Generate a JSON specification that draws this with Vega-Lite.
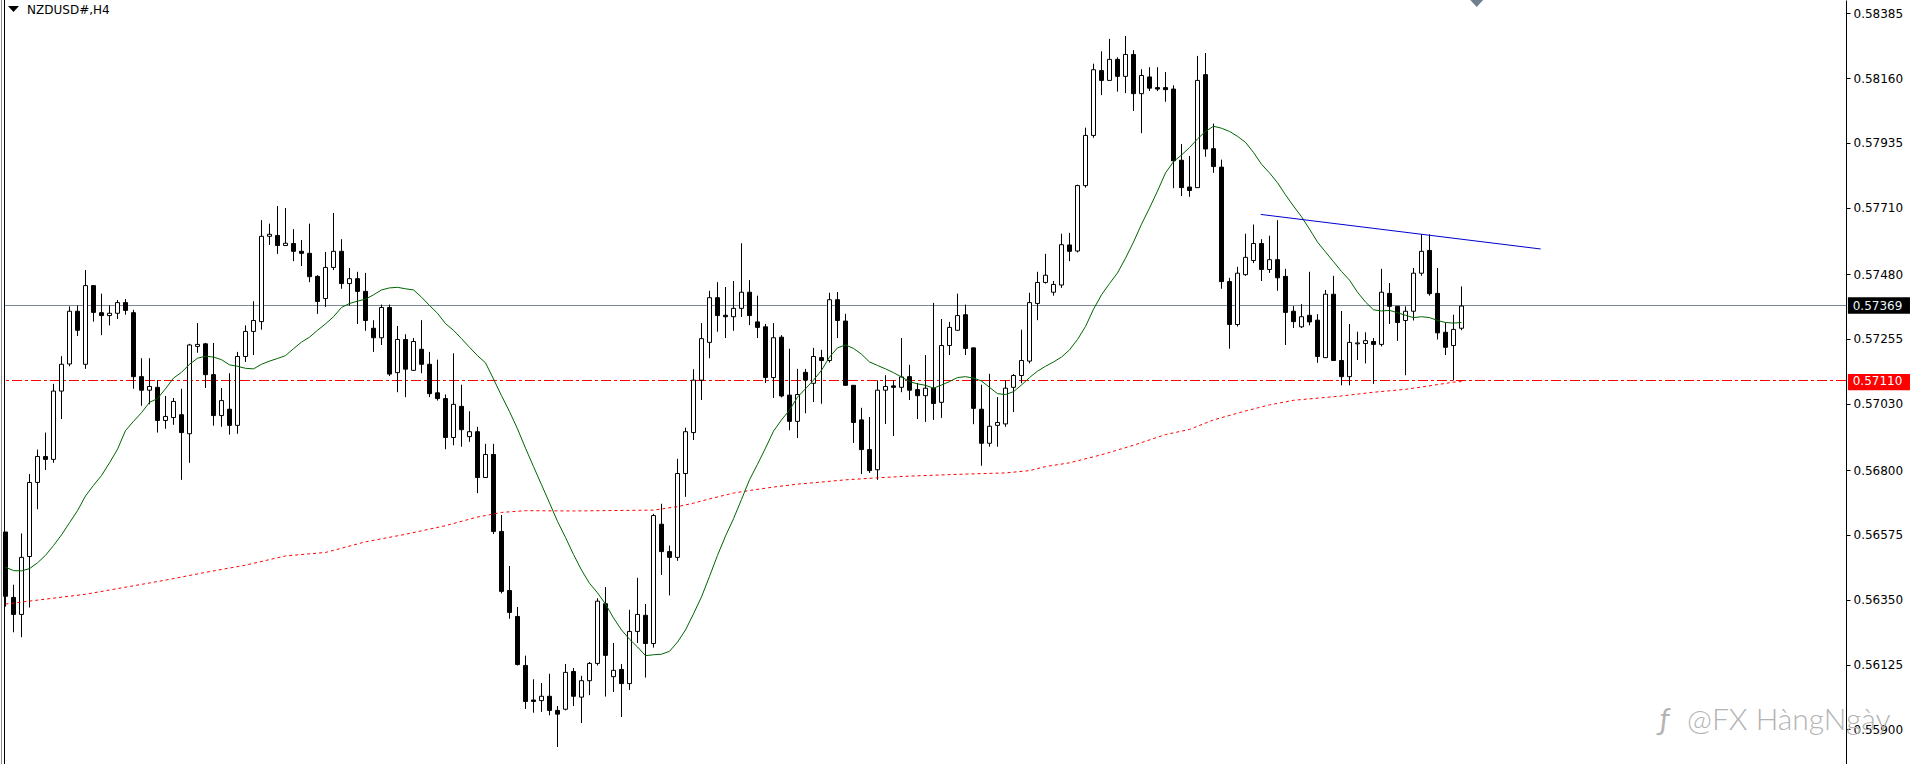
{
"$schema":"https://vega.github.io/schema/vega-lite/v6.json",
"width":1842,"height":764,"autosize":"none",
"padding":{"left":4,"right":67,"top":0,"bottom":0},
"background":"#ffffff",
"config":{"view":{"stroke":null},"axisX":{"disable":true}},
"datasets":{
"candles":[
{"i":0,"o":0.56585,"h":0.56585,"l":0.56326,"c":0.56362,"ma":0.56463},
{"i":1,"o":0.56358,"h":0.56402,"l":0.56237,"c":0.56299,"ma":0.56451},
{"i":2,"o":0.56299,"h":0.5658,"l":0.5622,"c":0.56497,"ma":0.5645},
{"i":3,"o":0.565,"h":0.56786,"l":0.56323,"c":0.56757,"ma":0.56458},
{"i":4,"o":0.56757,"h":0.56871,"l":0.56664,"c":0.56847,"ma":0.56478},
{"i":5,"o":0.56847,"h":0.5693,"l":0.568,"c":0.56837,"ma":0.56504},
{"i":6,"o":0.56837,"h":0.57099,"l":0.56825,"c":0.57074,"ma":0.56538},
{"i":7,"o":0.57074,"h":0.57195,"l":0.56977,"c":0.57167,"ma":0.56575},
{"i":8,"o":0.57168,"h":0.57368,"l":0.5716,"c":0.57351,"ma":0.56617},
{"i":9,"o":0.57351,"h":0.57371,"l":0.57265,"c":0.57285,"ma":0.56659},
{"i":10,"o":0.57167,"h":0.57494,"l":0.57151,"c":0.5744,"ma":0.5671},
{"i":11,"o":0.5744,"h":0.5744,"l":0.57315,"c":0.57347,"ma":0.56747},
{"i":12,"o":0.57346,"h":0.57412,"l":0.57268,"c":0.57336,"ma":0.56781},
{"i":13,"o":0.57336,"h":0.57371,"l":0.57302,"c":0.57344,"ma":0.56825},
{"i":14,"o":0.57344,"h":0.5739,"l":0.57324,"c":0.57381,"ma":0.56872},
{"i":15,"o":0.57381,"h":0.57393,"l":0.57339,"c":0.57354,"ma":0.56937},
{"i":16,"o":0.57346,"h":0.57356,"l":0.57082,"c":0.57124,"ma":0.56969},
{"i":17,"o":0.57124,"h":0.57188,"l":0.57023,"c":0.57077,"ma":0.56999},
{"i":18,"o":0.57077,"h":0.57188,"l":0.57028,"c":0.5709,"ma":0.57035},
{"i":19,"o":0.57087,"h":0.57112,"l":0.5693,"c":0.56972,"ma":0.57048},
{"i":20,"o":0.56972,"h":0.57057,"l":0.56943,"c":0.56986,"ma":0.57082},
{"i":21,"o":0.56982,"h":0.5705,"l":0.56957,"c":0.57038,"ma":0.57119},
{"i":22,"o":0.56992,"h":0.57082,"l":0.56766,"c":0.5693,"ma":0.57139},
{"i":23,"o":0.56926,"h":0.57238,"l":0.56825,"c":0.57234,"ma":0.57167},
{"i":24,"o":0.57229,"h":0.5731,"l":0.57207,"c":0.57236,"ma":0.57188},
{"i":25,"o":0.57238,"h":0.57241,"l":0.57085,"c":0.57131,"ma":0.57195},
{"i":26,"o":0.57131,"h":0.57241,"l":0.56954,"c":0.56989,"ma":0.57192},
{"i":27,"o":0.56989,"h":0.57085,"l":0.5695,"c":0.57041,"ma":0.57183},
{"i":28,"o":0.57011,"h":0.57136,"l":0.56923,"c":0.56955,"ma":0.57165},
{"i":29,"o":0.56955,"h":0.5721,"l":0.56926,"c":0.57194,"ma":0.5716},
{"i":30,"o":0.57194,"h":0.57302,"l":0.57175,"c":0.57281,"ma":0.57153},
{"i":31,"o":0.57281,"h":0.57386,"l":0.57199,"c":0.57319,"ma":0.57151},
{"i":32,"o":0.57315,"h":0.57667,"l":0.57287,"c":0.57611,"ma":0.57167},
{"i":33,"o":0.57611,"h":0.57655,"l":0.57581,"c":0.57618,"ma":0.57178},
{"i":34,"o":0.57614,"h":0.57716,"l":0.5755,"c":0.57579,"ma":0.57187},
{"i":35,"o":0.57579,"h":0.57709,"l":0.57579,"c":0.57587,"ma":0.57197},
{"i":36,"o":0.57586,"h":0.57636,"l":0.57525,"c":0.57559,"ma":0.57221},
{"i":37,"o":0.57559,"h":0.57598,"l":0.57508,"c":0.57552,"ma":0.57244},
{"i":38,"o":0.57552,"h":0.57655,"l":0.57452,"c":0.57471,"ma":0.57261},
{"i":39,"o":0.57472,"h":0.57476,"l":0.57342,"c":0.57385,"ma":0.57285},
{"i":40,"o":0.57395,"h":0.57557,"l":0.57366,"c":0.57503,"ma":0.57307},
{"i":41,"o":0.57503,"h":0.57692,"l":0.57494,"c":0.57559,"ma":0.57332},
{"i":42,"o":0.57559,"h":0.57601,"l":0.57429,"c":0.57447,"ma":0.57364},
{"i":43,"o":0.57447,"h":0.57501,"l":0.57371,"c":0.57464,"ma":0.57378},
{"i":44,"o":0.57464,"h":0.57488,"l":0.57307,"c":0.5742,"ma":0.57386},
{"i":45,"o":0.5742,"h":0.57484,"l":0.57283,"c":0.57319,"ma":0.57393},
{"i":46,"o":0.57292,"h":0.5732,"l":0.5721,"c":0.57259,"ma":0.57408},
{"i":47,"o":0.57259,"h":0.57374,"l":0.57234,"c":0.57364,"ma":0.57425},
{"i":48,"o":0.57364,"h":0.57374,"l":0.57126,"c":0.57133,"ma":0.57432},
{"i":49,"o":0.57138,"h":0.573,"l":0.5707,"c":0.57253,"ma":0.57434},
{"i":50,"o":0.57253,"h":0.57271,"l":0.57053,"c":0.5715,"ma":0.57429},
{"i":51,"o":0.57146,"h":0.57258,"l":0.57146,"c":0.57246,"ma":0.57425},
{"i":52,"o":0.57219,"h":0.5732,"l":0.57136,"c":0.57167,"ma":0.574},
{"i":53,"o":0.57167,"h":0.5721,"l":0.57053,"c":0.57065,"ma":0.57371},
{"i":54,"o":0.57068,"h":0.57183,"l":0.57041,"c":0.57048,"ma":0.57344},
{"i":55,"o":0.57048,"h":0.57062,"l":0.56872,"c":0.56913,"ma":0.57308},
{"i":56,"o":0.56913,"h":0.57205,"l":0.56886,"c":0.57028,"ma":0.57285},
{"i":57,"o":0.57021,"h":0.57096,"l":0.56881,"c":0.5694,"ma":0.57256},
{"i":58,"o":0.56916,"h":0.57004,"l":0.56898,"c":0.56933,"ma":0.57226},
{"i":59,"o":0.56933,"h":0.5695,"l":0.5672,"c":0.56774,"ma":0.57197},
{"i":60,"o":0.56774,"h":0.56891,"l":0.56774,"c":0.56854,"ma":0.57172},
{"i":61,"o":0.56854,"h":0.56891,"l":0.56578,"c":0.56587,"ma":0.57116},
{"i":62,"o":0.56587,"h":0.56644,"l":0.56372,"c":0.56379,"ma":0.57058},
{"i":63,"o":0.56382,"h":0.56467,"l":0.56284,"c":0.56306,"ma":0.57003},
{"i":64,"o":0.56292,"h":0.56325,"l":0.56122,"c":0.56125,"ma":0.56943},
{"i":65,"o":0.56122,"h":0.56156,"l":0.55971,"c":0.55997,"ma":0.56876},
{"i":66,"o":0.56002,"h":0.56074,"l":0.55958,"c":0.55997,"ma":0.56812},
{"i":67,"o":0.56,"h":0.56061,"l":0.55961,"c":0.56015,"ma":0.56749},
{"i":68,"o":0.56015,"h":0.56093,"l":0.55949,"c":0.55966,"ma":0.56686},
{"i":69,"o":0.55966,"h":0.55981,"l":0.55839,"c":0.55953,"ma":0.56622},
{"i":70,"o":0.5597,"h":0.56127,"l":0.55966,"c":0.56098,"ma":0.56566},
{"i":71,"o":0.56101,"h":0.56113,"l":0.55981,"c":0.56015,"ma":0.56507},
{"i":72,"o":0.56012,"h":0.56086,"l":0.55922,"c":0.56069,"ma":0.56453},
{"i":73,"o":0.56069,"h":0.56134,"l":0.56019,"c":0.56129,"ma":0.56407},
{"i":74,"o":0.56129,"h":0.56355,"l":0.56122,"c":0.56345,"ma":0.56374},
{"i":75,"o":0.56336,"h":0.56394,"l":0.56014,"c":0.56157,"ma":0.56335},
{"i":76,"o":0.56083,"h":0.562,"l":0.5603,"c":0.56105,"ma":0.56287},
{"i":77,"o":0.56108,"h":0.56127,"l":0.55943,"c":0.56059,"ma":0.56245},
{"i":78,"o":0.56059,"h":0.56315,"l":0.56037,"c":0.5624,"ma":0.56213},
{"i":79,"o":0.5624,"h":0.56426,"l":0.562,"c":0.56299,"ma":0.56186},
{"i":80,"o":0.56296,"h":0.56335,"l":0.5608,"c":0.56198,"ma":0.56156},
{"i":81,"o":0.56198,"h":0.56648,"l":0.56184,"c":0.56642,"ma":0.56159},
{"i":82,"o":0.56612,"h":0.56683,"l":0.56436,"c":0.56517,"ma":0.56161},
{"i":83,"o":0.56517,"h":0.56538,"l":0.56365,"c":0.56497,"ma":0.56171},
{"i":84,"o":0.56497,"h":0.56839,"l":0.56485,"c":0.56788,"ma":0.56203},
{"i":85,"o":0.56788,"h":0.56947,"l":0.56707,"c":0.56933,"ma":0.56245},
{"i":86,"o":0.5693,"h":0.5715,"l":0.56904,"c":0.57112,"ma":0.56301},
{"i":87,"o":0.57112,"h":0.5731,"l":0.57043,"c":0.57256,"ma":0.5636},
{"i":88,"o":0.57243,"h":0.57422,"l":0.57188,"c":0.57398,"ma":0.56431},
{"i":89,"o":0.57398,"h":0.57452,"l":0.5728,"c":0.57336,"ma":0.56504},
{"i":90,"o":0.57337,"h":0.57435,"l":0.57258,"c":0.57332,"ma":0.56571},
{"i":91,"o":0.57332,"h":0.57456,"l":0.57283,"c":0.57361,"ma":0.56631},
{"i":92,"o":0.57361,"h":0.57587,"l":0.57331,"c":0.57417,"ma":0.56698},
{"i":93,"o":0.57417,"h":0.57459,"l":0.57303,"c":0.57336,"ma":0.56766},
{"i":94,"o":0.57314,"h":0.57405,"l":0.57258,"c":0.57295,"ma":0.5682},
{"i":95,"o":0.57297,"h":0.57307,"l":0.57102,"c":0.57121,"ma":0.56876},
{"i":96,"o":0.57121,"h":0.5731,"l":0.5705,"c":0.57259,"ma":0.56935},
{"i":97,"o":0.57261,"h":0.57268,"l":0.57052,"c":0.57057,"ma":0.56974},
{"i":98,"o":0.5706,"h":0.57221,"l":0.56938,"c":0.56969,"ma":0.57008},
{"i":99,"o":0.56969,"h":0.57151,"l":0.56911,"c":0.57062,"ma":0.57053},
{"i":100,"o":0.57139,"h":0.57151,"l":0.56997,"c":0.57112,"ma":0.57082},
{"i":101,"o":0.57101,"h":0.57224,"l":0.57036,"c":0.57194,"ma":0.57112},
{"i":102,"o":0.5719,"h":0.57217,"l":0.5703,"c":0.5718,"ma":0.57146},
{"i":103,"o":0.5718,"h":0.57415,"l":0.57173,"c":0.57391,"ma":0.57192},
{"i":104,"o":0.57391,"h":0.57418,"l":0.57258,"c":0.57319,"ma":0.57224},
{"i":105,"o":0.57317,"h":0.57342,"l":0.57094,"c":0.57094,"ma":0.57234},
{"i":106,"o":0.57094,"h":0.57094,"l":0.56894,"c":0.56965,"ma":0.57222},
{"i":107,"o":0.56974,"h":0.57016,"l":0.56786,"c":0.56871,"ma":0.57202},
{"i":108,"o":0.56871,"h":0.56984,"l":0.5679,"c":0.56798,"ma":0.57175},
{"i":109,"o":0.56801,"h":0.57111,"l":0.56766,"c":0.57077,"ma":0.57163},
{"i":110,"o":0.57077,"h":0.57129,"l":0.5696,"c":0.5709,"ma":0.57151},
{"i":111,"o":0.57092,"h":0.57111,"l":0.56918,"c":0.57087,"ma":0.57138},
{"i":112,"o":0.57087,"h":0.57258,"l":0.5707,"c":0.57123,"ma":0.57123},
{"i":113,"o":0.57124,"h":0.57165,"l":0.57043,"c":0.57077,"ma":0.57107},
{"i":114,"o":0.57079,"h":0.57102,"l":0.56977,"c":0.57058,"ma":0.57099},
{"i":115,"o":0.57058,"h":0.57199,"l":0.56967,"c":0.57084,"ma":0.57094},
{"i":116,"o":0.57084,"h":0.5738,"l":0.56974,"c":0.57031,"ma":0.57084},
{"i":117,"o":0.57035,"h":0.57324,"l":0.56981,"c":0.57232,"ma":0.57095},
{"i":118,"o":0.57232,"h":0.57314,"l":0.57199,"c":0.57295,"ma":0.57107},
{"i":119,"o":0.57285,"h":0.57412,"l":0.57285,"c":0.57336,"ma":0.57121},
{"i":120,"o":0.57339,"h":0.57374,"l":0.57199,"c":0.57222,"ma":0.57124},
{"i":121,"o":0.57224,"h":0.57224,"l":0.56959,"c":0.57014,"ma":0.57119},
{"i":122,"o":0.57011,"h":0.57096,"l":0.56815,"c":0.56893,"ma":0.57109},
{"i":123,"o":0.56893,"h":0.57134,"l":0.56881,"c":0.56952,"ma":0.57087},
{"i":124,"o":0.56955,"h":0.57053,"l":0.56881,"c":0.56965,"ma":0.57065},
{"i":125,"o":0.5696,"h":0.57111,"l":0.5695,"c":0.57084,"ma":0.57062},
{"i":126,"o":0.57087,"h":0.57133,"l":0.57001,"c":0.57128,"ma":0.57072},
{"i":127,"o":0.57128,"h":0.57287,"l":0.57101,"c":0.5718,"ma":0.57095},
{"i":128,"o":0.57178,"h":0.57415,"l":0.5717,"c":0.57381,"ma":0.57121},
{"i":129,"o":0.57378,"h":0.57488,"l":0.5732,"c":0.57451,"ma":0.57143},
{"i":130,"o":0.57451,"h":0.5755,"l":0.57447,"c":0.57476,"ma":0.5716},
{"i":131,"o":0.57417,"h":0.57456,"l":0.57405,"c":0.57444,"ma":0.57175},
{"i":132,"o":0.57442,"h":0.5762,"l":0.57432,"c":0.57582,"ma":0.57192},
{"i":133,"o":0.57581,"h":0.57623,"l":0.57525,"c":0.57559,"ma":0.57217},
{"i":134,"o":0.5756,"h":0.5779,"l":0.57555,"c":0.57787,"ma":0.57253},
{"i":135,"o":0.57787,"h":0.57988,"l":0.5778,"c":0.57961,"ma":0.57298},
{"i":136,"o":0.57961,"h":0.5821,"l":0.57953,"c":0.58189,"ma":0.57358},
{"i":137,"o":0.58186,"h":0.58253,"l":0.58101,"c":0.58152,"ma":0.57408},
{"i":138,"o":0.58152,"h":0.58296,"l":0.58152,"c":0.58225,"ma":0.57447},
{"i":139,"o":0.58225,"h":0.58232,"l":0.58113,"c":0.58166,"ma":0.57484},
{"i":140,"o":0.58166,"h":0.58306,"l":0.58108,"c":0.58242,"ma":0.57535},
{"i":141,"o":0.58242,"h":0.58257,"l":0.58046,"c":0.58106,"ma":0.57591},
{"i":142,"o":0.58106,"h":0.58191,"l":0.57969,"c":0.58169,"ma":0.57653},
{"i":143,"o":0.58164,"h":0.58198,"l":0.58115,"c":0.58125,"ma":0.57709},
{"i":144,"o":0.58127,"h":0.58198,"l":0.58115,"c":0.58122,"ma":0.57768},
{"i":145,"o":0.58127,"h":0.58181,"l":0.58078,"c":0.5812,"ma":0.57831},
{"i":146,"o":0.58122,"h":0.58135,"l":0.57778,"c":0.57873,"ma":0.5787},
{"i":147,"o":0.57875,"h":0.57931,"l":0.57751,"c":0.5778,"ma":0.57893},
{"i":148,"o":0.57782,"h":0.5789,"l":0.57748,"c":0.5777,"ma":0.57919},
{"i":149,"o":0.5778,"h":0.58237,"l":0.5778,"c":0.58152,"ma":0.57949},
{"i":150,"o":0.58172,"h":0.58247,"l":0.57887,"c":0.57914,"ma":0.57975},
{"i":151,"o":0.57915,"h":0.58002,"l":0.57831,"c":0.57853,"ma":0.57993},
{"i":152,"o":0.57851,"h":0.57877,"l":0.57429,"c":0.57454,"ma":0.57986},
{"i":153,"o":0.57454,"h":0.57467,"l":0.57221,"c":0.57305,"ma":0.57975},
{"i":154,"o":0.57305,"h":0.57505,"l":0.57298,"c":0.57483,"ma":0.57958},
{"i":155,"o":0.57478,"h":0.5762,"l":0.57474,"c":0.57538,"ma":0.57937},
{"i":156,"o":0.57527,"h":0.57652,"l":0.57518,"c":0.57586,"ma":0.57902},
{"i":157,"o":0.57586,"h":0.57601,"l":0.57456,"c":0.57496,"ma":0.57861},
{"i":158,"o":0.57496,"h":0.57613,"l":0.57484,"c":0.5753,"ma":0.57831},
{"i":159,"o":0.5753,"h":0.57667,"l":0.57422,"c":0.57467,"ma":0.57797},
{"i":160,"o":0.57472,"h":0.57498,"l":0.57234,"c":0.57347,"ma":0.57755},
{"i":161,"o":0.57351,"h":0.57369,"l":0.57293,"c":0.57315,"ma":0.57716},
{"i":162,"o":0.57297,"h":0.57376,"l":0.57293,"c":0.57332,"ma":0.57679},
{"i":163,"o":0.57337,"h":0.57488,"l":0.57302,"c":0.57314,"ma":0.57636},
{"i":164,"o":0.5732,"h":0.57341,"l":0.57172,"c":0.57194,"ma":0.57591},
{"i":165,"o":0.5719,"h":0.57425,"l":0.5719,"c":0.5741,"ma":0.57557},
{"i":166,"o":0.5741,"h":0.57474,"l":0.5718,"c":0.5718,"ma":0.57523},
{"i":167,"o":0.5718,"h":0.57352,"l":0.57094,"c":0.57124,"ma":0.57489},
{"i":168,"o":0.57124,"h":0.57307,"l":0.57094,"c":0.57243,"ma":0.57459},
{"i":169,"o":0.57238,"h":0.5728,"l":0.57182,"c":0.57241,"ma":0.57417},
{"i":170,"o":0.57239,"h":0.57278,"l":0.5717,"c":0.57249,"ma":0.57383},
{"i":171,"o":0.57246,"h":0.57258,"l":0.57099,"c":0.57236,"ma":0.57356},
{"i":172,"o":0.57236,"h":0.57498,"l":0.57229,"c":0.57417,"ma":0.57352},
{"i":173,"o":0.57413,"h":0.57449,"l":0.57307,"c":0.57368,"ma":0.57354},
{"i":174,"o":0.57368,"h":0.57368,"l":0.57248,"c":0.57312,"ma":0.57346},
{"i":175,"o":0.57319,"h":0.57368,"l":0.57129,"c":0.57351,"ma":0.57337},
{"i":176,"o":0.57351,"h":0.57501,"l":0.57319,"c":0.57483,"ma":0.57329},
{"i":177,"o":0.57483,"h":0.57618,"l":0.57474,"c":0.57559,"ma":0.57332},
{"i":178,"o":0.57562,"h":0.57618,"l":0.57405,"c":0.57412,"ma":0.57329},
{"i":179,"o":0.57413,"h":0.57501,"l":0.57253,"c":0.57276,"ma":0.57319},
{"i":180,"o":0.57278,"h":0.57312,"l":0.57199,"c":0.57226,"ma":0.57312},
{"i":181,"o":0.57232,"h":0.57339,"l":0.57111,"c":0.57288,"ma":0.5731},
{"i":182,"o":0.57292,"h":0.57437,"l":0.57285,"c":0.57369,"ma":0.57312}
],
"ma200":[
{"i":0,"v":0.56335},{"i":10,"v":0.56369},{"i":20,"v":0.56418},{"i":25,"v":0.56445},{"i":30,"v":0.5647},{"i":35,"v":0.56502},{"i":40,"v":0.56514},{"i":45,"v":0.56551},{"i":50,"v":0.56577},{"i":55,"v":0.56607},{"i":59,"v":0.56637},{"i":60,"v":0.56642},{"i":62,"v":0.56653},{"i":65,"v":0.56659},{"i":71,"v":0.56658},{"i":81,"v":0.56661},{"i":84,"v":0.56673},{"i":86,"v":0.56685},{"i":88,"v":0.567},{"i":91,"v":0.5672},{"i":93,"v":0.56729},{"i":96,"v":0.56741},{"i":99,"v":0.56751},{"i":101,"v":0.56756},{"i":105,"v":0.56766},{"i":109,"v":0.56773},{"i":113,"v":0.56779},{"i":120,"v":0.56786},{"i":125,"v":0.5679},{"i":128,"v":0.56798},{"i":130,"v":0.56812},{"i":133,"v":0.56825},{"i":137,"v":0.56853},{"i":141,"v":0.56886},{"i":145,"v":0.56923},{"i":148,"v":0.56941},{"i":151,"v":0.56974},{"i":155,"v":0.57005},{"i":158,"v":0.57026},{"i":161,"v":0.57042},{"i":167,"v":0.57057},{"i":171,"v":0.5707},{"i":175,"v":0.5708},{"i":177,"v":0.57088},{"i":181,"v":0.57105},{"i":182,"v":0.57107}
],
"trend":[{"i":156.9,"v":0.57687},{"i":191.9,"v":0.57567}]
},
"layer":[
{"data":{"values":[{}]},"mark":{"type":"rule","stroke":"#778899","strokeWidth":1},"encoding":{
  "y":{"datum":0.573709,"type":"quantitative","scale":{"domain":[0.5578,0.58431],"nice":false,"zero":false},
   "axis":{"orient":"right","title":null,"grid":false,"values":[0.58385,0.5816,0.57935,0.5771,0.5748,0.57255,0.5703,0.568,0.56575,0.5635,0.56125,0.559],"format":".5f","domainColor":"#000000","tickColor":"#000000","tickSize":4,"labelColor":"#000000","labelFont":"DejaVu Sans","labelFontSize":12,"labelPadding":3,"labelOverlap":false,"labelFlush":false,"labelBound":false}}}},
{"data":{"values":[{}]},"mark":{"type":"rule","stroke":"#ff0000","strokeWidth":1,"strokeDash":[10,3,3,3]},"encoding":{"y":{"datum":0.571107,"type":"quantitative"}}},
{"data":{"name":"candles"},"mark":{"type":"rule","stroke":"#000000","strokeWidth":1},
 "encoding":{"x":{"field":"i","type":"quantitative","scale":{"domain":[-0.1875,230.0625],"nice":false,"zero":false,"padding":0}},"y":{"field":"h","type":"quantitative"},"y2":{"field":"l"}}},
{"data":{"name":"candles"},"mark":{"type":"bar","size":4,"stroke":"#000000","strokeWidth":1},
 "encoding":{"x":{"field":"i","type":"quantitative"},"y":{"field":"o","type":"quantitative"},"y2":{"field":"c"},
  "fill":{"condition":{"test":"datum.c>=datum.o","value":"#ffffff"},"value":"#000000"}}},
{"data":{"name":"ma200"},"mark":{"type":"line","stroke":"#ff0000","strokeWidth":1,"strokeDash":[3,3]},
 "encoding":{"x":{"field":"i","type":"quantitative"},"y":{"field":"v","type":"quantitative"}}},
{"data":{"name":"candles"},"mark":{"type":"line","stroke":"#006400","strokeWidth":1},
 "encoding":{"x":{"field":"i","type":"quantitative"},"y":{"field":"ma","type":"quantitative"}}},
{"data":{"name":"trend"},"mark":{"type":"line","stroke":"#0000cd","strokeWidth":1},
 "encoding":{"x":{"field":"i","type":"quantitative"},"y":{"field":"v","type":"quantitative"}}},
{"data":{"values":[{}]},"mark":{"type":"rule","stroke":"#000000","strokeWidth":1,"clip":false},"encoding":{"x":{"datum":-0.125,"type":"quantitative"}}},
{"data":{"values":[{}]},"mark":{"type":"rule","stroke":"#8c8c8c","strokeWidth":1,"clip":false},"encoding":{"x":{"datum":-0.5,"type":"quantitative"}}},
{"data":{"values":[{}]},"mark":{"type":"rect","fill":"#000000"},"encoding":{"x":{"datum":230.3,"type":"quantitative"},"x2":{"datum":238.06},"y":{"datum":0.574,"type":"quantitative"},"y2":{"datum":0.57342}}},
{"data":{"values":[{}]},"mark":{"type":"rect","fill":"#ff0000"},"encoding":{"x":{"datum":230.3,"type":"quantitative"},"x2":{"datum":238.06},"y":{"datum":0.57133,"type":"quantitative"},"y2":{"datum":0.57077}}},
{"data":{"values":[{"label":"0.57369"}]},"mark":{"type":"text","align":"left","baseline":"middle","font":"DejaVu Sans","fontSize":12,"fill":"#e8f4ff"},"encoding":{"x":{"datum":230.9,"type":"quantitative"},"y":{"datum":0.57369,"type":"quantitative"},"text":{"field":"label"}}},
{"data":{"values":[{"label":"0.57110"}]},"mark":{"type":"text","align":"left","baseline":"middle","font":"DejaVu Sans","fontSize":12,"fill":"#ffffff"},"encoding":{"x":{"datum":230.9,"type":"quantitative"},"y":{"datum":0.5711,"type":"quantitative"},"text":{"field":"label"}}},
{"data":{"values":[{"label":"NZDUSD#,H4"}]},"mark":{"type":"text","align":"left","baseline":"middle","font":"DejaVu Sans","fontSize":12,"fill":"#000000"},"encoding":{"x":{"datum":2.7,"type":"quantitative"},"y":{"datum":0.58396,"type":"quantitative"},"text":{"field":"label"}}},
{"data":{"values":[{}]},"mark":{"type":"point","shape":"M-1,-0.54L1,-0.54L0,0.54Z","size":121,"filled":true,"fill":"#000000","opacity":1,"strokeWidth":0},"encoding":{"x":{"datum":1,"type":"quantitative"},"y":{"datum":0.584,"type":"quantitative"}}},
{"data":{"values":[{}]},"mark":{"type":"point","shape":"M-1,-0.54L1,-0.54L0,0.54Z","size":169,"filled":true,"fill":"#708090","opacity":1,"strokeWidth":0},"encoding":{"x":{"datum":183.9,"type":"quantitative"},"y":{"datum":0.58419,"type":"quantitative"}}},
{"data":{"values":[{"label":"@FX HàngNgày"}]},"mark":{"type":"text","align":"left","baseline":"alphabetic","font":"Lato","fontWeight":300,"fontSize":30,"fill":"#b4b4b4"},"encoding":{"x":{"datum":210.19,"type":"quantitative"},"y":{"datum":0.55899,"type":"quantitative"},"text":{"field":"label"}}},
{"data":{"values":[{"label":"ƒ"}]},"mark":{"type":"text","align":"left","baseline":"alphabetic","font":"Lato","fontStyle":"italic","fontSize":30,"fill":"#b4b4b4"},"encoding":{"x":{"datum":206.8,"type":"quantitative"},"y":{"datum":0.55899,"type":"quantitative"},"text":{"field":"label"}}}
]
}
